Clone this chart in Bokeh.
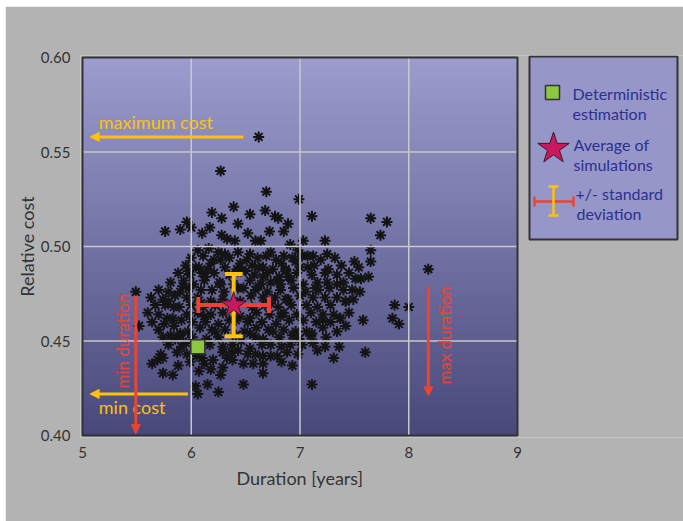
import numpy as np
from bokeh.plotting import figure
from bokeh.models import Range1d, NumeralTickFormatter, FixedTicker, Arrow, NormalHead, Title
from bokeh.embed import file_html
from bokeh.resources import INLINE
from bokeh.core.properties import value

# ---------------- data ----------------
# outlying simulations
dur_a = [6.62, 6.27, 6.69, 6.99, 6.19, 6.28, 6.39, 6.54, 6.68, 6.77, 6.80, 6.89, 7.11, 7.65, 7.80, 7.74]
cost_a = [0.558, 0.540, 0.529, 0.525, 0.518, 0.515, 0.521, 0.517, 0.519, 0.516, 0.515, 0.512, 0.516, 0.515, 0.513, 0.506]
dur_b = [5.76, 5.90, 5.96, 6.00, 6.10, 6.17, 6.28, 6.33, 6.43, 6.52, 6.72, 6.85, 6.40, 6.59, 6.64, 6.91, 7.03, 7.23]
cost_b = [0.508, 0.509, 0.513, 0.510, 0.507, 0.510, 0.506, 0.504, 0.512, 0.507, 0.508, 0.508, 0.503, 0.503, 0.503, 0.501, 0.503, 0.503]
dur_c = [6.06, 6.16, 6.25, 6.31, 6.43, 6.54, 6.61, 6.73, 6.85, 6.98, 7.07, 7.12, 7.25, 7.65]
cost_c = [0.498, 0.499, 0.497, 0.496, 0.497, 0.496, 0.494, 0.497, 0.495, 0.498, 0.495, 0.495, 0.496, 0.498]
dur_d = [6.04, 6.10, 6.13, 5.97, 5.93, 6.27, 6.45, 6.50, 6.66, 6.79, 6.89, 7.07, 6.75, 6.87, 6.96, 7.16, 7.50, 7.54, 7.65, 7.63, 7.51, 7.56, 7.40, 8.18]
cost_d = [0.489, 0.486, 0.484, 0.487, 0.482, 0.493, 0.491, 0.487, 0.484, 0.482, 0.484, 0.489, 0.488, 0.487, 0.492, 0.481, 0.492, 0.489, 0.492, 0.484, 0.483, 0.483, 0.481, 0.488]
dur_e = [5.49, 5.70, 5.76, 5.84, 5.90, 5.52, 5.64, 5.72, 5.74, 5.83, 5.88, 5.69, 5.74, 6.04, 6.15, 6.25, 6.06, 6.07, 6.18, 6.27, 6.10, 6.20, 6.29, 6.29, 6.33, 5.78, 5.84, 5.90, 5.95, 5.81, 5.87]
cost_e = [0.476, 0.464, 0.469, 0.468, 0.476, 0.458, 0.438, 0.443, 0.433, 0.432, 0.437, 0.440, 0.441, 0.426, 0.427, 0.423, 0.422, 0.434, 0.435, 0.432, 0.441, 0.440, 0.444, 0.436, 0.441, 0.462, 0.458, 0.453, 0.449, 0.453, 0.444]
dur_f = [7.21, 7.03, 6.96, 7.10, 6.91, 7.12, 7.16, 6.66, 6.48, 7.11, 6.43, 6.48, 6.57, 6.66, 6.73, 6.79]
cost_f = [0.464, 0.461, 0.455, 0.453, 0.448, 0.449, 0.445, 0.433, 0.427, 0.427, 0.445, 0.438, 0.438, 0.442, 0.448, 0.442]
dur_g = [7.87, 8.00, 7.85, 7.91, 7.58, 7.37, 7.42, 7.34, 7.36, 7.31, 7.60, 7.40, 7.48, 7.55, 7.34, 7.42, 7.49]
cost_g = [0.469, 0.468, 0.462, 0.459, 0.461, 0.462, 0.458, 0.455, 0.447, 0.441, 0.444, 0.477, 0.477, 0.476, 0.473, 0.471, 0.472]
# dense core of the cloud
dur_h = [6.00, 6.11, 6.21, 6.35, 6.51, 6.69, 6.78, 6.93, 7.02, 7.19, 7.32, 5.95, 6.07, 6.18, 6.31, 6.42, 6.56, 6.66, 6.83, 7.00, 7.13, 7.26, 7.38]
cost_h = [0.494, 0.495, 0.493, 0.494, 0.493, 0.495, 0.493, 0.494, 0.495, 0.493, 0.494, 0.490, 0.489, 0.491, 0.489, 0.488, 0.490, 0.489, 0.491, 0.489, 0.490, 0.488, 0.490]
dur_i = [5.88, 5.99, 6.21, 6.35, 6.46, 6.58, 6.70, 6.81, 6.97, 7.11, 7.23, 7.34, 7.45, 5.81, 6.02, 6.12, 6.26, 6.39, 6.54, 6.64, 6.73, 6.92, 7.03, 7.25, 7.34]
cost_i = [0.486, 0.485, 0.486, 0.485, 0.487, 0.485, 0.486, 0.484, 0.486, 0.485, 0.486, 0.485, 0.486, 0.481, 0.480, 0.482, 0.481, 0.480, 0.482, 0.480, 0.481, 0.482, 0.480, 0.481, 0.480]
dur_j = [5.70, 5.79, 5.98, 6.09, 6.19, 6.30, 6.48, 6.59, 6.70, 6.82, 6.94, 7.05, 7.17, 7.27, 5.63, 5.74, 5.85, 5.96, 6.06, 6.18, 6.55, 6.66, 6.77, 6.89, 7.00, 7.12, 7.23]
cost_j = [0.477, 0.476, 0.478, 0.477, 0.477, 0.476, 0.478, 0.477, 0.476, 0.477, 0.478, 0.476, 0.477, 0.478, 0.473, 0.472, 0.474, 0.473, 0.473, 0.471, 0.474, 0.473, 0.473, 0.472, 0.474, 0.473, 0.473]
dur_k = [5.67, 5.89, 6.00, 6.11, 6.22, 6.56, 6.68, 6.80, 6.92, 7.06, 7.16, 7.28, 5.60, 5.96, 6.06, 6.18, 6.29, 6.45, 6.60, 6.72, 6.85, 6.97, 7.10, 7.31, 7.45]
cost_k = [0.469, 0.468, 0.469, 0.468, 0.469, 0.468, 0.469, 0.468, 0.469, 0.469, 0.468, 0.469, 0.465, 0.464, 0.465, 0.464, 0.465, 0.463, 0.465, 0.464, 0.465, 0.464, 0.465, 0.464, 0.465]
dur_l = [5.64, 5.75, 5.91, 6.01, 6.13, 6.25, 6.35, 6.52, 6.65, 6.78, 6.90, 7.15, 7.28, 5.70, 5.97, 6.08, 6.19, 6.31, 6.49, 6.60, 6.71, 6.85, 7.06, 7.21]
cost_l = [0.460, 0.459, 0.461, 0.460, 0.460, 0.459, 0.461, 0.460, 0.460, 0.459, 0.461, 0.460, 0.460, 0.456, 0.455, 0.457, 0.456, 0.456, 0.455, 0.457, 0.456, 0.456, 0.455, 0.457]
dur_m = [5.74, 5.85, 6.01, 6.14, 6.25, 6.46, 6.59, 6.66, 6.81, 6.99, 7.24, 5.79, 5.91, 6.17, 6.29, 6.38, 6.54, 6.65, 6.83, 7.02, 7.23]
cost_m = [0.452, 0.451, 0.452, 0.451, 0.452, 0.450, 0.452, 0.451, 0.452, 0.451, 0.452, 0.448, 0.447, 0.448, 0.447, 0.448, 0.446, 0.448, 0.447, 0.448, 0.447]
dur_n = [5.96, 6.05, 6.37, 6.52, 6.59, 6.73, 6.88, 6.98, 5.99, 6.12, 6.38, 6.66, 6.83, 6.93]
cost_n = [0.443, 0.442, 0.444, 0.443, 0.443, 0.442, 0.444, 0.443, 0.439, 0.438, 0.440, 0.438, 0.439, 0.437]
dur_o = [6.15, 6.43, 6.62, 6.87, 5.92, 6.27, 6.43, 6.62, 6.82, 7.14, 5.79, 6.09, 6.29, 6.45, 6.73, 6.87, 7.42]
cost_o = [0.488, 0.487, 0.489, 0.488, 0.479, 0.480, 0.478, 0.479, 0.480, 0.478, 0.471, 0.470, 0.472, 0.471, 0.470, 0.472, 0.471]
dur_p = [5.83, 6.12, 6.41, 6.54, 6.82, 7.21, 7.37, 5.90, 6.22, 6.41, 6.54, 6.75, 6.93, 7.11]
cost_p = [0.462, 0.463, 0.461, 0.462, 0.463, 0.461, 0.462, 0.454, 0.455, 0.453, 0.454, 0.455, 0.453, 0.454]

det_duration = [6.06]
det_cost = [0.447]
avg_duration = 6.39
avg_cost = 0.469
std_duration = 0.325
std_cost = 0.0165

x_ticks = [5, 6, 7, 8, 9]
y_ticks = [0.40, 0.45, 0.50, 0.55, 0.60]

legend_labels = ["Deterministic", "estimation", "Average of", "simulations", "+/- standard", "deviation"]

# ---------------- assemble ----------------
dur_groups = [dur_a, dur_b, dur_c, dur_d, dur_e, dur_f, dur_g, dur_h, dur_i, dur_j, dur_k, dur_l, dur_m, dur_n, dur_o, dur_p]
cost_groups = [cost_a, cost_b, cost_c, cost_d, cost_e, cost_f, cost_g, cost_h, cost_i, cost_j, cost_k, cost_l, cost_m, cost_n, cost_o, cost_p]
duration, cost = [], []
for dg, cg in zip(dur_groups, cost_groups):
    for d, c in zip(dg, cg):
        duration.append(d)
        cost.append(c)

FONT = "Lato"
GRAY = "#b3b3b3"
YELLOW = "#fcc20f"
RED = "#ec4432"
STAR = "#c8185e"
GREEN = "#8dc63f"
DARK = "#333333"
NAVY = "#2d3091"

# ---------------- geometry (pixels, relative to the figure) ----------------
W, H = 678, 515
PLOT_L, PLOT_T, PLOT_W, PLOT_H = 77, 51, 435, 378   # the plotting area (x 5..9, y 0.40..0.60)
PAD = 2
XPP = (x_ticks[-1] - x_ticks[0]) / PLOT_W            # years per pixel
YPP = (y_ticks[-1] - y_ticks[0]) / PLOT_H            # cost per pixel


def lx(px):  # figure pixel -> x coordinate (layout of the legend panel)
    return x_ticks[0] + (px - PLOT_L) * XPP


def ly(py):  # figure pixel -> y coordinate
    return y_ticks[-1] - (py - PLOT_T) * YPP


p = figure(width=W, height=H,
           x_range=Range1d(lx(PLOT_L - PAD), lx(W)), y_range=Range1d(ly(PLOT_T + PLOT_H + PAD), ly(PLOT_T - PAD)),
           output_backend="svg", toolbar_location=None,
           min_border_left=PLOT_L - PAD, min_border_right=0, min_border_top=PLOT_T - PAD,
           min_border_bottom=H - (PLOT_T + PLOT_H + PAD),
           styles={"position": "absolute", "left": "5px", "top": "6px"})
p.border_fill_color = GRAY
p.background_fill_color = GRAY
p.outline_line_color = None
p.grid.visible = False

# vertical gradient of the plotting area
n = 90
edges = np.linspace(y_ticks[0], y_ticks[-1], n + 1)
c_top = np.array([156, 156, 206])
c_bot = np.array([72, 72, 122])
cols = []
for i in range(n):
    t = (i + 0.5) / n
    c = c_bot + (c_top - c_bot) * t
    cols.append("#%02x%02x%02x" % tuple(int(round(v)) for v in c))
p.quad(left=x_ticks[0], right=x_ticks[-1], bottom=edges[:-1], top=edges[1:],
       fill_color=cols, line_color=cols, line_width=1)

# simulations
p.scatter(duration, cost, marker="asterisk", size=11, line_color="#141414", line_width=2)

# grid lines drawn above the points
p.segment(x0=x_ticks[1:-1], y0=y_ticks[0], x1=x_ticks[1:-1], y1=y_ticks[-1], line_color="#c9c9c9", line_width=1.5)
p.segment(x0=x_ticks[0], y0=y_ticks[1:-1], x1=x_ticks[-1], y1=y_ticks[1:-1], line_color="#c9c9c9", line_width=1.5)

# frame of the plotting area
p.quad(left=[x_ticks[0]], right=[x_ticks[-1]], bottom=[y_ticks[0]], top=[y_ticks[-1]],
       fill_color=None, line_color=DARK, line_width=2)

# annotation arrows (extremes of the cloud)
max_cost, min_cost = max(cost), min(cost)
min_dur, max_dur = min(duration), max(duration)
p.add_layout(Arrow(x_start=6.48, y_start=max_cost, x_end=5.07, y_end=max_cost, line_color=YELLOW, line_width=3,
                   end=NormalHead(size=9, fill_color=YELLOW, line_color=YELLOW)))
p.add_layout(Arrow(x_start=5.97, y_start=min_cost, x_end=5.07, y_end=min_cost, line_color=YELLOW, line_width=3,
                   end=NormalHead(size=9, fill_color=YELLOW, line_color=YELLOW)))
p.add_layout(Arrow(x_start=min_dur, y_start=0.474, x_end=min_dur, y_end=0.401, line_color=RED, line_width=3,
                   end=NormalHead(size=9, fill_color=RED, line_color=RED)))
p.add_layout(Arrow(x_start=max_dur, y_start=0.479, x_end=max_dur, y_end=0.421, line_color=RED, line_width=3,
                   end=NormalHead(size=9, fill_color=RED, line_color=RED)))

p.text(x=[5.15, 5.15], y=[0.566, 0.415], text=["maximum cost", "min cost"], text_font=value(FONT),
       text_font_size="18px", text_color=YELLOW, text_align="left", text_baseline="middle")
p.text(x=[5.37, 8.33], y=[0.450, 0.453], text=["min duration", "max duration"], angle=np.pi / 2,
       text_font=value(FONT), text_font_size="17px", text_color=RED, text_align="center", text_baseline="middle")

# deterministic estimation
p.scatter(det_duration, det_cost, marker="square", size=14, fill_color=GREEN, line_color=DARK, line_width=1.5)

# +/- standard deviation
p.segment(x0=[avg_duration - std_duration], y0=[avg_cost], x1=[avg_duration + std_duration], y1=[avg_cost],
          line_color=RED, line_width=4)
p.scatter([avg_duration - std_duration, avg_duration + std_duration], [avg_cost, avg_cost], marker="dash",
          angle=np.pi / 2, size=16, line_color=RED, line_width=4)
p.segment(x0=[avg_duration], y0=[avg_cost - std_cost], x1=[avg_duration], y1=[avg_cost + std_cost],
          line_color=YELLOW, line_width=4)
p.scatter([avg_duration, avg_duration], [avg_cost - std_cost, avg_cost + std_cost], marker="dash",
          size=18, line_color=YELLOW, line_width=4)
# average of simulations
p.scatter([avg_duration], [avg_cost], marker="star", size=27, fill_color=STAR, line_color="#3a1a2a", line_width=1)

# axes
p.xaxis.ticker = FixedTicker(ticks=x_ticks)
p.yaxis.ticker = FixedTicker(ticks=y_ticks)
p.yaxis.formatter = NumeralTickFormatter(format="0.00")
for ax in (p.xaxis, p.yaxis):
    ax.axis_line_color = None
    ax.major_tick_line_color = None
    ax.minor_tick_line_color = None
    ax.major_tick_out = 0
    ax.major_tick_in = 0
    ax.minor_tick_out = 0
    ax.minor_tick_in = 0
    ax.major_label_text_font = FONT
    ax.major_label_text_font_size = "15px"
    ax.major_label_text_color = DARK
p.xaxis.major_label_standoff = 9
p.yaxis.major_label_standoff = 10
p.yaxis.axis_label = "Relative cost"
p.yaxis.axis_label_text_font = FONT
p.yaxis.axis_label_text_font_size = "18px"
p.yaxis.axis_label_text_font_style = "normal"
p.yaxis.axis_label_text_color = DARK
p.yaxis.axis_label_standoff = 0

p.add_layout(Title(text="Duration [years]", align="left", offset=156, standoff=8,
                   text_font=FONT, text_font_size="18px", text_font_style="normal", text_color=DARK), "below")

# ---------------- legend panel (layout in pixels) ----------------
p.quad(left=[lx(524)], right=[lx(672)], top=[ly(50)], bottom=[ly(233)],
       fill_color="#9696c8", line_color=DARK, line_width=2)
p.scatter([lx(547)], [ly(86)], marker="square", size=14, fill_color=GREEN, line_color=DARK, line_width=1.5)
p.scatter([lx(548)], [ly(142)], marker="star", size=33, fill_color=STAR, line_color="#3a1a2a", line_width=1)
p.segment(x0=[lx(529)], y0=[ly(195)], x1=[lx(568)], y1=[ly(195)], line_color=RED, line_width=2.5)
p.scatter([lx(529), lx(568)], [ly(195), ly(195)], marker="dash", angle=np.pi / 2, size=10,
          line_color=RED, line_width=2.5)
p.segment(x0=[lx(548)], y0=[ly(180)], x1=[lx(548)], y1=[ly(209)], line_color=YELLOW, line_width=2.5)
p.scatter([lx(548), lx(548)], [ly(180), ly(209)], marker="dash", size=10, line_color=YELLOW, line_width=2.5)
text_px = [567, 567, 568, 568, 570, 571]
text_py = [87, 107, 138, 158, 187, 207]
p.text(x=[lx(v) for v in text_px], y=[ly(v) for v in text_py], text=legend_labels, text_font=value(FONT),
       text_font_size="16px", text_color=NAVY, text_align="left", text_baseline="middle")

open("out.html", "w").write(file_html(p, INLINE))
